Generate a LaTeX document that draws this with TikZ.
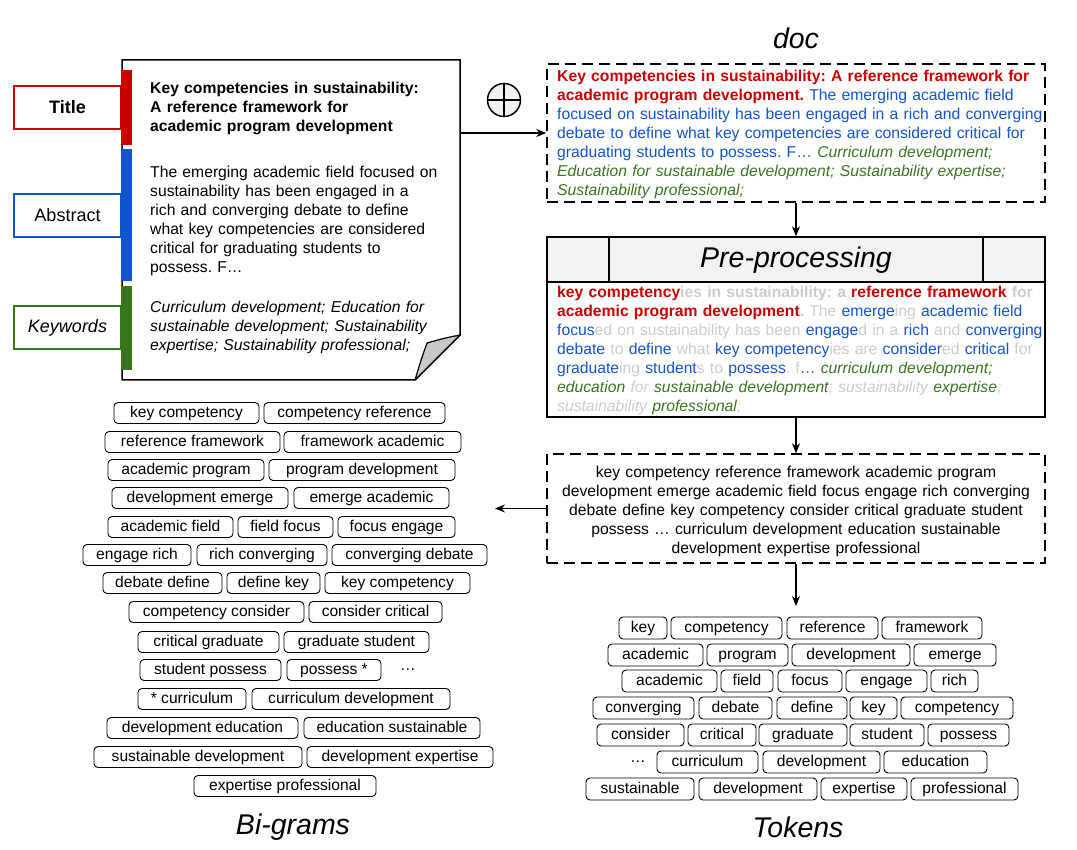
\documentclass[tikz,border=0pt]{standalone}
\usepackage{fontspec}
\setmainfont{Liberation Sans}
\usetikzlibrary{arrows.meta}
\frenchspacing
\definecolor{cRed}{HTML}{CC0000}
\definecolor{cBlue}{HTML}{1155CC}
\definecolor{cGreen}{HTML}{38761D}
\definecolor{cGray}{HTML}{CCCCCC}
\definecolor{cFill}{HTML}{F2F2F2}
\definecolor{cFold}{HTML}{C8C8C8}
\newcommand\tRed[1]{{\color{cRed}\bfseries #1}}
\newcommand\tRg[1]{{\color{cGray}\bfseries #1}}
\newcommand\tBl[1]{{\color{cBlue}#1}}
\newcommand\tG[1]{{\color{cGray}#1}}
\newcommand\tKw[1]{{\color{cGreen}\itshape #1}}
\newcommand\tKg[1]{{\color{cGray}\itshape #1}}
\newcommand\chip[5]{\node[chip,minimum width={#3-#2}] (#1) at ({(#2+#3)/2},#4) {#5};}
\tikzset{
  chip/.style={draw, rounded corners=4pt, line width=0.9pt, minimum height=21pt, inner sep=0pt, text height=11.2pt, text depth=2.2pt, font=\fontsize{15.6}{18}\selectfont},
  txt/.style={anchor=base west, inner sep=0pt, text width=600pt, align=left, font=\fontsize{15.7}{19}\selectfont},
  ctxt/.style={anchor=base, inner sep=0pt, text width=498pt, align=center, font=\fontsize{15.7}{19}\selectfont},
  dbox/.style={draw, dash pattern=on 11pt off 6pt, line width=1.5pt, inner sep=0pt},
  arr/.style={line width=1.4pt, -{Stealth[length=10pt,width=8pt]}},
  lbl/.style={draw, line width=2pt, minimum width=107pt, minimum height=43pt, inner sep=0pt, font=\fontsize{18}{22}\selectfont},
  head/.style={inner sep=0pt, font=\fontsize{28.5}{34}\selectfont\itshape},
}
\begin{document}
\begin{tikzpicture}[x=1pt,y=-1pt]
\useasboundingbox (0,0) rectangle (1077,850);
% document page
\node[inner sep=0pt, minimum width=338pt, minimum height=320pt] (page) at (291,220) {};
\draw[line width=1.5pt, fill=white] (122,60) -- (460,60) -- (460,335) -- (415,380) -- (122,380) -- cycle;
\draw[line width=1.2pt, fill=cFold, line join=round] (460,335) .. controls (445,338) .. (427,343) .. controls (421,360) .. (415,380) -- cycle;
\fill[cRed] (121,70) rectangle (132,145);
\fill[cBlue] (121,149) rectangle (132,281);
\fill[cGreen] (121,286) rectangle (132,370);
\node[lbl, draw=cRed, font=\fontsize{18}{22}\selectfont\bfseries] (ltitle) at (67.5,107.5) {Title};
\node[lbl, draw=cBlue] (labs) at (67.5,215.5) {Abstract};
\node[lbl, draw=cGreen, font=\fontsize{18}{22}\selectfont\itshape] (lkw) at (67.5,328) {Keywords};
\node[txt, font=\fontsize{15.7}{19}\selectfont\bfseries] (ptitle) at (150,94) {Key competencies in sustainability:\\A reference framework for\\academic program development};
\node[txt] (pabs) at (150,178) {The emerging academic field focused on\\sustainability has been engaged in a\\rich and converging debate to define\\what key competencies are considered\\critical for graduating students to\\possess. F…};
\node[txt, font=\fontsize{15.7}{19}\selectfont\itshape] (pkw) at (150,313) {Curriculum development; Education for\\sustainable development; Sustainability\\expertise; Sustainability professional;};
% oplus
\node[circle, draw, fill=cFill, line width=1.5pt, minimum size=33pt, inner sep=0pt] (oplus) at (504,100) {};
\draw[line width=1.5pt] (oplus.north) -- (oplus.south) (oplus.west) -- (oplus.east);
% doc box
\node[head] (doclbl) at (796,38) {doc};
\node[dbox, minimum width=498pt, minimum height=138pt] (docbox) at (796,133) {};
\node[txt] (doctext) at (557,82) {\tRed{Key competencies in sustainability: A reference framework for}\\\tRed{academic program development.} \tBl{The emerging academic field}\\\tBl{focused on sustainability has been engaged in a rich and converging}\\\tBl{debate to define what key competencies are considered critical for}\\\tBl{graduating students to possess. F…} \tKw{Curriculum development;}\\\tKw{Education for sustainable development; Sustainability expertise;}\\\tKw{Sustainability professional;}};
\draw[arr] (docbox.west -| page.east) -- (docbox.west);
% pre-processing
\node[draw, line width=1.5pt, minimum width=498pt, minimum height=180pt, inner sep=0pt] (pre) at (796,327) {};
\draw[line width=1.5pt, fill=cFill] (547,237) rectangle (1045,282);
\draw[line width=1.5pt] (609,237) -- (609,282) (983,237) -- (983,282);
\node[head] (prelbl) at (796,260) {Pre-processing};
\node[txt] (pretext) at (557,298) {\tRed{key competency}\tRg{ies in sustainability: a }\tRed{reference framework}\tRg{ for}\\\tRed{academic program development}\tRg{.} \tG{The} \tBl{emerge}\tG{ing} \tBl{academic field}\\\tBl{focus}\tG{ed on sustainability has been} \tBl{engage}\tG{d in a} \tBl{rich} \tG{and} \tBl{converging}\\\tBl{debate} \tG{to} \tBl{define} \tG{what} \tBl{key competency}\tG{ies are} \tBl{consider}\tG{ed} \tBl{critical} \tG{for}\\\tBl{graduate}\tG{ing} \tBl{student}\tG{s to} \tBl{possess}\tG{. f}\tBl{…} \tKw{curriculum development;}\\\tKw{education} \tKg{for} \tKw{sustainable development}\tKg{; sustainability} \tKw{expertise}\tKg{;}\\\tKg{sustainability} \tKw{professional}\tKg{;}};
\draw[arr] (docbox.south) -- (pre.north);
% tokens text
\node[dbox, minimum width=498pt, minimum height=109pt] (tok) at (796,508.5) {};
\node[ctxt] (toktext) at (796,477) {key competency reference framework academic program\\development emerge academic field focus engage rich converging\\debate define key competency consider critical graduate student\\possess … curriculum development education sustainable\\development expertise professional};
\draw[arr] (pre.south) -- (tok.north);
\coordinate (bgin) at (495,508.5);
\coordinate (tkin) at (796,606);
\draw[arr] (tok.west) -- (bgin);
\draw[arr] (tok.south) -- (tkin);
% bigrams
\chip{b1a}{114}{259}{413}{key competency}
\chip{b1b}{264}{445}{413}{competency reference}
\chip{b2a}{105}{280}{442}{reference framework}
\chip{b2b}{284}{461}{442}{framework academic}
\chip{b3a}{108}{264}{470}{academic program}
\chip{b3b}{269}{455}{470}{program development}
\chip{b4a}{112}{288}{498}{development emerge}
\chip{b4b}{294}{449}{498}{emerge academic}
\chip{b5a}{108}{233}{527}{academic field}
\chip{b5b}{238}{333}{527}{field focus}
\chip{b5c}{338}{455}{527}{focus engage}
\chip{b6a}{83}{191}{555}{engage rich}
\chip{b6b}{197}{327}{555}{rich converging}
\chip{b6c}{332}{487}{555}{converging debate}
\chip{b7a}{103}{222}{583}{debate define}
\chip{b7b}{227}{320}{583}{define key}
\chip{b7c}{325}{470}{583}{key competency}
\chip{b8a}{129}{304}{612}{competency consider}
\chip{b8b}{309}{442}{612}{consider critical}
\chip{b9a}{138}{279}{642}{critical graduate}
\chip{b9b}{284}{429}{642}{graduate student}
\chip{b10a}{140}{281}{670}{student possess}
\chip{b10b}{287}{381}{670}{possess *}
\node[inner sep=0pt, font=\fontsize{15.6}{18}\selectfont] (bdots) at (408,670) {…};
\chip{b11a}{138}{246}{699}{* curriculum}
\chip{b11b}{252}{450}{699}{curriculum development}
\chip{b12a}{107}{298}{728}{development education}
\chip{b12b}{304}{480}{728}{education sustainable}
\chip{b13a}{94}{302}{757}{sustainable development}
\chip{b13b}{307}{493}{757}{development expertise}
\chip{b14}{194}{376}{786}{expertise professional}
\node[head] (bglbl) at (293,827) {Bi-grams};
% tokens
\tikzset{chip/.append style={minimum height=22pt}}
\chip{t1a}{619}{667}{628}{key}
\chip{t1b}{671}{782}{628}{competency}
\chip{t1c}{787}{878}{628}{reference}
\chip{t1d}{882}{982}{628}{framework}
\chip{t2a}{608}{703}{655}{academic}
\chip{t2b}{707}{788}{655}{program}
\chip{t2c}{792}{910}{655}{development}
\chip{t2d}{914}{996}{655}{emerge}
\chip{t3a}{622}{717}{681}{academic}
\chip{t3b}{721}{773}{681}{field}
\chip{t3c}{778}{842}{681}{focus}
\chip{t3d}{846}{927}{681}{engage}
\chip{t3e}{931}{978}{681}{rich}
\chip{t4a}{593}{694}{708}{converging}
\chip{t4b}{699}{772}{708}{debate}
\chip{t4c}{777}{847}{708}{define}
\chip{t4d}{850}{897}{708}{key}
\chip{t4e}{901}{1013}{708}{competency}
\chip{t5a}{597}{684}{735}{consider}
\chip{t5b}{688}{756}{735}{critical}
\chip{t5c}{759}{847}{735}{graduate}
\chip{t5d}{850}{924}{735}{student}
\chip{t5e}{928}{1009}{735}{possess}
\node[inner sep=0pt, font=\fontsize{15.6}{18}\selectfont] (tdots) at (638,762) {…};
\chip{t6a}{657}{758}{762}{curriculum}
\chip{t6b}{763}{880}{762}{development}
\chip{t6c}{884}{987}{762}{education}
\chip{t7a}{586}{694}{789}{sustainable}
\chip{t7b}{699}{817}{789}{development}
\chip{t7c}{821}{907}{789}{expertise}
\chip{t7d}{911}{1018}{789}{professional}
\node[head] (tklbl) at (798,827) {Tokens};
\end{tikzpicture}
\end{document}
